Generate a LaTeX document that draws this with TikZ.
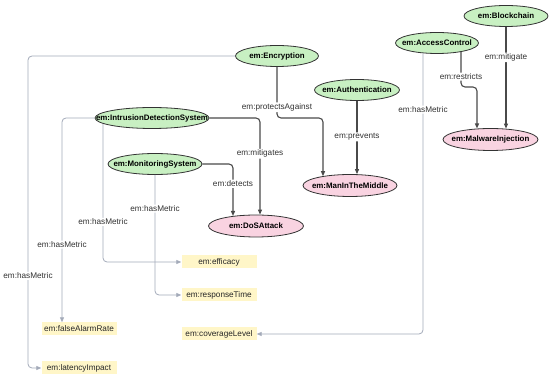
\documentclass[tikz,border=0pt]{standalone}
\usepackage{fontspec}
\setmainfont{Liberation Sans}
\usepackage{tikz}
\usetikzlibrary{arrows.meta,positioning,calc,shapes.geometric}
\definecolor{GreenFill}{HTML}{C8F0C2}
\definecolor{PinkFill}{HTML}{F9D3E1}
\definecolor{YellowFill}{HTML}{FFF6C8}
\definecolor{RelLine}{HTML}{4A4A4A}
\definecolor{MetricLine}{HTML}{A2A9B8}
\definecolor{LabelText}{HTML}{333333}
\newcommand{\ntext}[1]{\makebox[0pt]{#1}}

\begin{document}
\begin{tikzpicture}[x=1pt, y=-1pt,
  every node/.style={font=\fontsize{8.2}{9.5}\selectfont},
  gnode/.style={ellipse, draw=black!80, fill=GreenFill, line width=0.8pt,
    minimum width=#1, minimum height=21pt, inner sep=0pt,
    font=\bfseries\fontsize{7.9}{9.5}\selectfont},
  pnode/.style={ellipse, draw=black!80, fill=PinkFill, line width=0.8pt,
    minimum width=#1, minimum height=22pt, inner sep=0pt,
    font=\bfseries\fontsize{7.9}{9.5}\selectfont},
  mbox/.style={rectangle, fill=YellowFill, minimum width=75pt,
    minimum height=13pt, inner sep=0pt, text=black!85},
  rel/.style={draw=RelLine, line width=1.1pt, rounded corners=4pt,
    -{Triangle[length=5pt, width=4pt]}},
  metric/.style={draw=MetricLine, line width=0.8pt, rounded corners=4pt,
    -{Triangle[length=5pt, width=4pt]}},
  lbl/.style={fill=white, inner sep=1pt, text=LabelText}]
  \useasboundingbox (0,0) rectangle (550,379);

  \node[gnode=83pt] (enc) at (277,56) {\ntext{em:Encryption}};
  \node[gnode=85pt] (auth) at (357,90) {\ntext{em:Authentication}};
  \node[gnode=83pt] (ac) at (437,43) {\ntext{em:AccessControl}};
  \node[gnode=84pt] (bc) at (506,16) {\ntext{em:Blockchain}};
  \node[gnode=114pt] (ids) at (152,118) {\ntext{em:IntrusionDetectionSystem}};
  \node[gnode=94pt] (mon) at (155,164) {\ntext{em:MonitoringSystem}};

  \node[pnode=95pt] (dos) at (256,226) {\ntext{em:DoSAttack}};
  \node[pnode=94pt] (mitm) at (350,185.5) {\ntext{em:ManInTheMiddle}};
  \node[pnode=95pt] (mal) at (490.5,139.5) {\ntext{em:MalwareInjection}};

  \node[mbox] (eff) at (219,262) {em:efficacy};
  \node[mbox] (resp) at (219,295) {em:responseTime};
  \node[mbox] (cov) at (219,334) {em:coverageLevel};
  \node[mbox] (fal) at (79,329) {em:falseAlarmRate};
  \node[mbox] (lat) at (79,368) {em:latencyImpact};

  \draw[metric] (enc.west) -- (28,56)
    -- node[lbl, pos=0.705] {em:hasMetric} (28,368) -- (lat.west);
  \draw[rel] (enc.south) -- node[lbl, pos=0.79] {em:protectsAgainst} (277,118)
    -- (323,118) -- ($(mitm.north)+(-27,2.1)$);
  \draw[rel] (auth.south) -- node[lbl, pos=0.49] {em:prevents} (auth.south |- mitm.north);

  \draw[metric] (ids.west) -- (62,118)
    -- node[lbl, pos=0.62] {em:hasMetric} ($(fal.north)+(-17,0)$);
  \draw[metric] ($(ids.south)+(-49,-5)$) -- node[lbl, pos=0.71] {em:hasMetric} (103,262)
    -- (eff.west);
  \draw[rel] (ids.east) -- (260,118)
    -- node[lbl, pos=0.37] {em:mitigates} ($(dos.north)+(4,0)$);

  \draw[rel] (mon.east) -- (233,164)
    -- node[lbl, pos=0.38] {em:detects} ($(dos.north)+(-23,1.4)$);
  \draw[metric] (mon.south) -- node[lbl, pos=0.28] {em:hasMetric} (155,295)
    -- (resp.west);

  \draw[metric] ($(ac.south)+(-14,-0.5)$) -- node[lbl, pos=0.2] {em:hasMetric} (423,334)
    -- (cov.east);
  \draw[rel] ($(ac.south)+(24,-1.8)$) -- node[lbl, pos=0.7] {em:restricts} (461,87)
    -- (477,87) -- ($(mal.north)+(-13.5,0.4)$);
  \draw[rel] (bc.south) -- node[lbl, pos=0.3] {em:mitigate} ($(mal.north)+(15.5,0.5)$);
\end{tikzpicture}
\end{document}
